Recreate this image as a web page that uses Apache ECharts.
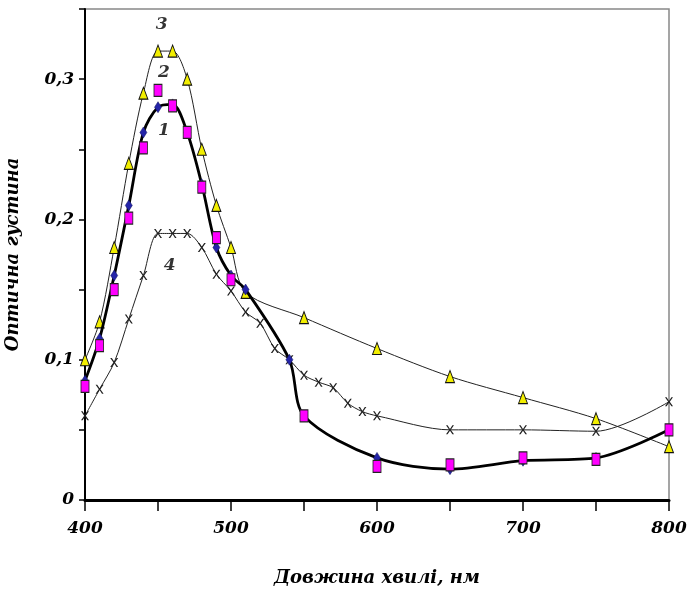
<!DOCTYPE html>
<html>
<head>
<meta charset="utf-8">
<script src="https://cdn.jsdelivr.net/npm/echarts@6/dist/echarts.min.js"></script>
<style>html,body{margin:0;padding:0;background:#fff;}#c{width:687px;height:592px;}</style>
</head>
<body>
<div id="c"></div>
<script>
// Curve 1 (blue diamonds, thick line)
const curve1X = [400,410,420,430,440,450,460,470,480,490,500,510,540,550,600,650,700,750,800];
const curve1Y = [0.085,0.115,0.16,0.21,0.262,0.28,0.282,0.262,0.225,0.18,0.16,0.15,0.10,0.06,0.03,0.022,0.028,0.03,0.05];
// Curve 2 (magenta squares)
const curve2X = [400,410,420,430,440,450,460,470,480,490,500,550,600,650,700,750,800];
const curve2Y = [0.081,0.11,0.15,0.201,0.251,0.292,0.281,0.262,0.223,0.187,0.157,0.06,0.024,0.025,0.03,0.029,0.05];
// Curve 3 (yellow triangles)
const curve3X = [400,410,420,430,440,450,460,470,480,490,500,510,550,600,650,700,750,800];
const curve3Y = [0.10,0.127,0.18,0.24,0.29,0.32,0.32,0.30,0.25,0.21,0.18,0.148,0.13,0.108,0.088,0.073,0.058,0.038];
// Curve 4 (crosses)
const curve4X = [400,410,420,430,440,450,460,470,480,490,500,510,520,530,540,550,560,570,580,590,600,650,700,750,800];
const curve4Y = [0.06,0.079,0.098,0.129,0.16,0.19,0.19,0.19,0.18,0.161,0.149,0.134,0.126,0.108,0.10,0.089,0.084,0.08,0.069,0.063,0.06,0.05,0.05,0.049,0.07];
// Curve number labels (data coordinates)
const labelX = [452.5,454,454,458];
const labelY = [0.339,0.305,0.263,0.167];
const labelText = ['3','2','1','4'];
// Axis text
const xTitle = 'Довжина хвилі, нм';
const yTitle = 'Оптична густина';
const xLabelValues = [400,500,600,700,800];
const yLabelValues = [0,0.1,0.2,0.3];
const yLabelText = ['0','0,1','0,2','0,3'];

const zip = (xs, ys) => xs.map((x, i) => [x, ys[i]]);
const FONT = 'DejaVu Serif';
const crossPath = 'path://M0,0L2,0L5,4L8,0L10,0L6,5L10,10L8,10L5,6L2,10L0,10L4,5Z';

const chart = echarts.init(document.getElementById('c'));
chart.setOption({
  animation: false,
  backgroundColor: '#fff',
  grid: { left: 85, right: 18, top: 9, bottom: 92, show: true, borderColor: '#888', borderWidth: 1.5, backgroundColor: 'transparent', containLabel: false, outerBoundsMode: 'none' },
  xAxis: {
    type: 'value', min: 400, max: 800, interval: 50,
    name: xTitle, nameLocation: 'middle', nameGap: 69,
    nameTextStyle: { fontFamily: FONT, fontWeight: 'bold', fontStyle: 'italic', fontSize: 18, color: '#000' },
    axisLine: { show: true, onZero: false, lineStyle: { color: '#000', width: 3 } },
    axisTick: { show: true, inside: false, length: 11, lineStyle: { color: '#000', width: 1.5 } },
    splitLine: { show: false },
    axisLabel: {
      margin: 20, fontFamily: FONT, fontWeight: 'bold', fontStyle: 'italic', fontSize: 17, color: '#000',
      hideOverlap: false,
      formatter: v => xLabelValues.includes(Math.round(v)) ? String(Math.round(v)) : ''
    }
  },
  yAxis: {
    type: 'value', min: 0, max: 0.35, interval: 0.05,
    name: yTitle, nameLocation: 'middle', nameGap: 63,
    nameTextStyle: { fontFamily: FONT, fontWeight: 'bold', fontStyle: 'italic', fontSize: 18, color: '#000' },
    axisLine: { show: true, onZero: false, lineStyle: { color: '#000', width: 2 } },
    axisTick: { show: true, inside: false, length: 6, lineStyle: { color: '#000', width: 1.5 } },
    splitLine: { show: false },
    axisLabel: {
      margin: 11, fontFamily: FONT, fontWeight: 'bold', fontStyle: 'italic', fontSize: 17, color: '#000',
      formatter: v => {
        const i = yLabelValues.findIndex(t => Math.abs(t - v) < 1e-6);
        return i >= 0 ? yLabelText[i] : '';
      }
    }
  },
  series: [
    {
      type: 'line', data: zip(curve4X, curve4Y), smooth: 0.3,
      lineStyle: { color: '#222', width: 1 },
      symbol: crossPath, symbolSize: [8, 9], showAllSymbol: true,
      itemStyle: { color: '#222' }, z: 2
    },
    {
      type: 'line', data: zip(curve3X, curve3Y), smooth: 0.3,
      lineStyle: { color: '#222', width: 1 },
      symbol: 'triangle', symbolSize: [9, 12], showAllSymbol: true,
      itemStyle: { color: '#f2ee00', borderColor: '#111', borderWidth: 1 }, z: 3
    },
    {
      type: 'line', data: zip(curve1X, curve1Y), smooth: 0.3,
      lineStyle: { color: '#000', width: 2.8 },
      symbol: 'diamond', symbolSize: [7, 11], showAllSymbol: true,
      itemStyle: { color: '#2424a8', borderColor: '#10105a', borderWidth: 0.5 }, z: 4
    },
    {
      type: 'line', data: zip(curve2X, curve2Y),
      lineStyle: { width: 0 },
      symbol: 'rect', symbolSize: [8, 12], showAllSymbol: true,
      itemStyle: { color: '#ff00ff', borderColor: '#222', borderWidth: 1 }, z: 5
    },
    {
      type: 'scatter', data: labelX.map((x, i) => [x, labelY[i], labelText[i]]),
      symbolSize: 1, itemStyle: { color: 'transparent' }, z: 6,
      label: {
        show: true, position: 'inside', formatter: p => p.value[2],
        fontFamily: FONT, fontWeight: 'bold', fontStyle: 'italic', fontSize: 17, color: '#000'
      }
    }
  ]
});
</script>
</body>
</html>
